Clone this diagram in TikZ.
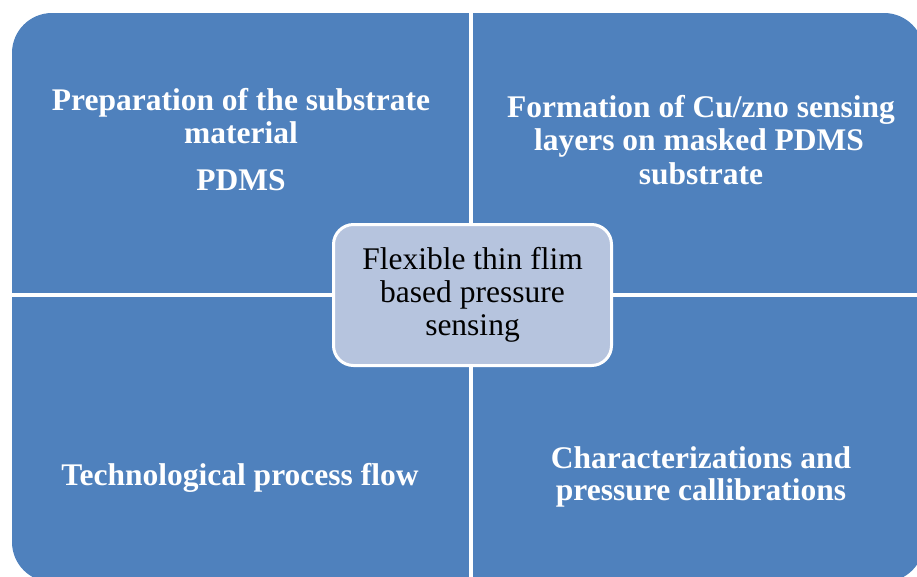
\documentclass[tikz,border=0pt]{standalone}
\usepackage{fontspec}
\setmainfont{Liberation Serif}
\definecolor{quadblue}{RGB}{79,129,189}
\definecolor{hubfill}{RGB}{182,196,222}
\begin{document}
\begin{tikzpicture}[x=1pt, y=-1pt,
		quadtext/.style={anchor=base, text=white, font=\fontsize{31.5}{33}\selectfont\bfseries, inner sep=0pt},
		hubbox/.style={draw=white, line width=3pt, fill=hubfill, rounded corners=20pt, minimum width=278pt, minimum height=141pt, align=center, font=\fontsize{31.5}{33}\selectfont, inner sep=0pt}]
	\useasboundingbox (0,0) rectangle (917,576) ;
	\clip (0,0) rectangle (917,576) ;
	\fill[quadblue, rounded corners=40pt] (12,13) rectangle (924,582) ;
	\fill[white] (469,0) rectangle (473,590) ;
	\fill[white] (0,293) rectangle (930,297) ;
		\node (tl1)[quadtext] at (241, 110) {Preparation of the substrate} ; 
		\node (tl2)[quadtext] at (241, 143) {material} ; 
		\node (tl3)[quadtext] at (241, 190) {PDMS} ; 
		\node (tr1)[quadtext] at (701, 117) {Formation of Cu/zno sensing} ; 
		\node (tr2)[quadtext] at (699, 150) {layers on masked PDMS} ; 
		\node (tr3)[quadtext] at (701, 184) {substrate} ; 
		\node (bl1)[quadtext] at (240, 485) {Technological process flow} ; 
		\node (br1)[quadtext] at (701, 468) {Characterizations and} ; 
		\node (br2)[quadtext] at (701, 500) {pressure callibrations} ; 
        \node (hub)[hubbox] at (472.5, 295) {Flexible thin flim\\based pressure\\sensing} ;
\end{tikzpicture}
\end{document}
